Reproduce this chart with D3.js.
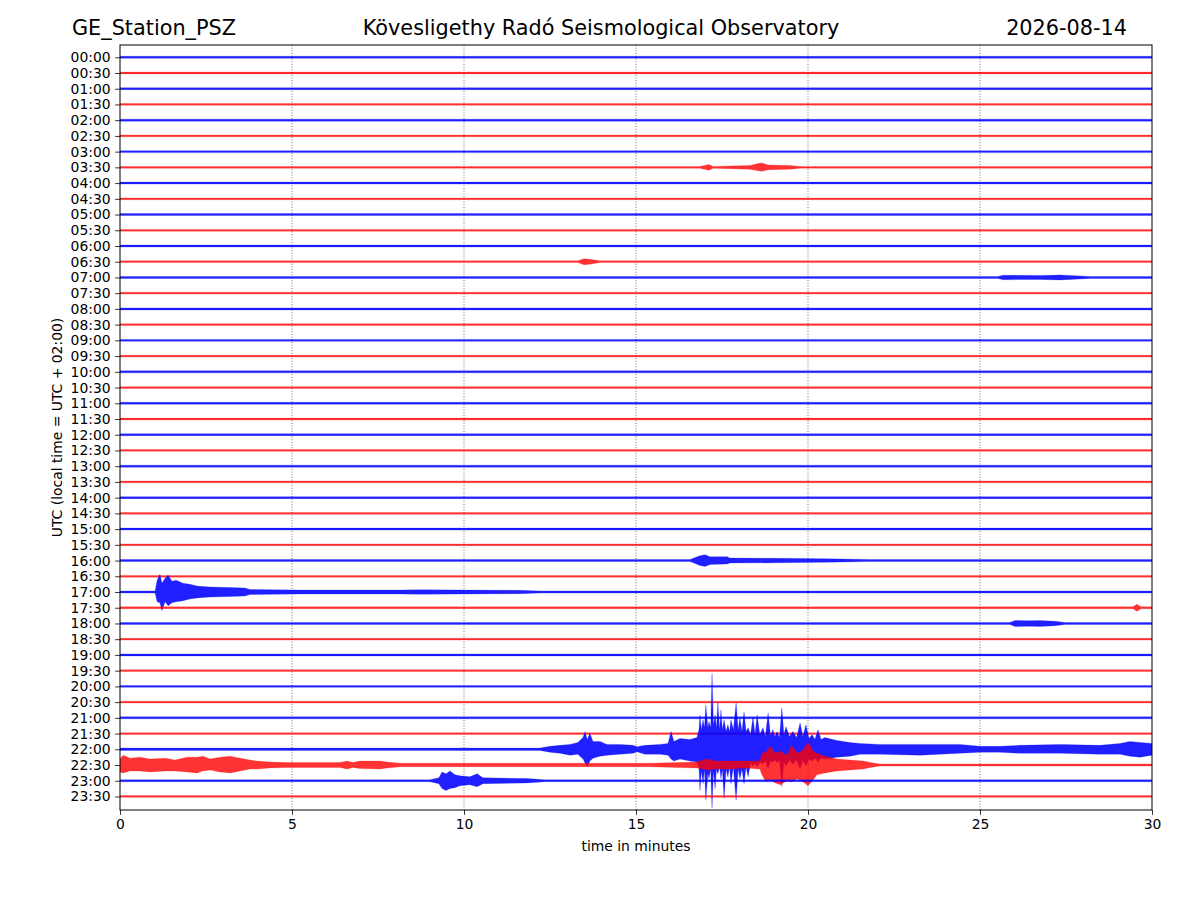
<!DOCTYPE html>
<html lang="en">
<head>
    <meta charset="UTF-8">
    <title>GE_Station_PSZ</title>
    <style>
        body { margin: 0; background: #fff; }
        svg { display: block; font-family: "DejaVu Sans", sans-serif; }
    </style>
    <script src="https://d3js.org/d3.v7.min.js"></script>
</head>
<body>
    <div id="svg"></div>
    <script>
        const { boxWidth, boxHeight } = { boxWidth: 1200, boxHeight: 900 }
        const { plotLeft, plotRight, plotTop, plotBottom } = { plotLeft: 120, plotRight: 1152, plotTop: 45, plotBottom: 810 }

        // one row = 30 minutes of record, 48 rows in the day
        const rowLabels = [
            "00:00", "00:30", "01:00", "01:30", "02:00", "02:30", "03:00", "03:30",
            "04:00", "04:30", "05:00", "05:30", "06:00", "06:30", "07:00", "07:30",
            "08:00", "08:30", "09:00", "09:30", "10:00", "10:30", "11:00", "11:30",
            "12:00", "12:30", "13:00", "13:30", "14:00", "14:30", "15:00", "15:30",
            "16:00", "16:30", "17:00", "17:30", "18:00", "18:30", "19:00", "19:30",
            "20:00", "20:30", "21:00", "21:30", "22:00", "22:30", "23:00", "23:30"
        ]
        const minuteTicks = [0, 5, 10, 15, 20, 25, 30]
        const gridMinutes = [5, 10, 15, 20, 25]

        // amplitude units, 16 units = distance between two rows
        const traceSpacing = 16
        const noiseLevel = [
            1.0, 0.9, 1.0, 0.9, 1.0, 0.9, 1.0, 0.9,
            1.0, 0.9, 1.0, 0.9, 1.0, 0.9, 1.0, 0.9,
            1.0, 0.9, 1.0, 0.9, 1.0, 0.9, 1.0, 0.9,
            1.0, 0.9, 1.0, 0.9, 1.0, 0.9, 1.0, 0.9,
            1.0, 0.9, 1.0, 0.9, 1.0, 0.9, 1.0, 0.9,
            1.0, 0.9, 1.0, 0.9, 1.2, 1.0, 1.0, 0.9
        ]

        // envelopes: [minute, up, down]
        const ev0330 = [[16.86, 0.9, 0.9], [17.12, 3, 3], [17.24, 0.9, 0.9], [18.31, 2, 2], [18.55, 4, 3.5],
            [18.66, 4.5, 4], [18.84, 2.5, 2.5], [19.48, 1.8, 1.8], [19.77, 0.9, 0.9]]
        const ev0630 = [[13.31, 0.9, 0.9], [13.49, 3, 3], [13.66, 2.5, 2.5], [13.95, 0.9, 0.9]]
        const ev0700 = [[25.52, 1.0, 1.0], [25.67, 2.3, 2.3], [26.74, 2.0, 2.0], [27.33, 2.5, 2.5],
            [27.76, 1.8, 1.8], [28.2, 1.0, 1.0]]
        const ev1600 = [[16.57, 1.0, 1.0], [16.72, 3, 3], [16.86, 5, 5], [17.01, 6, 6], [17.15, 4, 4],
            [17.65, 4, 3.5], [17.73, 2.5, 2.5], [19.10, 2.3, 2.3], [20.55, 1.8, 1.8], [21.8, 1.0, 1.0]]
        const ev1700 = [[1.02, 1.0, 1.0], [1.08, 12, 10], [1.16, 18, 11], [1.22, 9, 19], [1.31, 14, 10],
            [1.40, 17, 14], [1.51, 11, 11], [1.63, 12, 10], [1.83, 9, 9], [2.03, 8, 7], [2.24, 6, 6],
            [2.62, 5, 5], [3.20, 4.5, 4.5], [3.63, 4, 4], [3.78, 2.5, 2.5], [5.23, 2, 2], [8.14, 2, 2],
            [8.72, 2.3, 2.3], [11.63, 1.7, 1.7], [12.21, 1.0, 1.0]]
        const ev1730 = [[29.45, 0.9, 0.9], [29.56, 3.5, 3.5], [29.68, 0.9, 0.9]]
        const ev1800 = [[25.87, 1.0, 1.0], [26.02, 3, 3], [26.45, 2.8, 2.8], [26.74, 3, 3],
            [27.18, 2.2, 2.2], [27.47, 1.0, 1.0]]
        const ev2200 = [
            [12.21, 1.2, 1.2], [12.50, 3, 3], [12.79, 4, 4], [13.08, 5, 6], [13.31, 7, 5], [13.46, 12, 10],
            [13.52, 18, 14], [13.58, 10, 18], [13.66, 16, 12], [13.75, 8, 9], [13.95, 8, 7], [14.16, 5, 6],
            [14.53, 5, 5], [14.91, 4, 4], [15.03, 2.5, 2.5], [15.26, 4, 5], [15.70, 5, 5], [15.93, 6, 6],
            [16.02, 18, 10], [16.10, 8, 12], [16.28, 11, 10], [16.57, 10, 12], [16.77, 12, 13],
            [16.83, 20, 18], [16.86, 35, 42], [16.90, 20, 22], [16.95, 30, 35], [16.99, 22, 20],
            [17.03, 45, 52], [17.09, 22, 24], [17.12, 28, 30], [17.17, 22, 20], [17.21, 77, 60],
            [17.25, 25, 22], [17.30, 35, 40], [17.34, 22, 20], [17.38, 48, 25], [17.43, 20, 18],
            [17.47, 40, 30], [17.51, 20, 20], [17.56, 30, 50], [17.62, 18, 20], [17.67, 25, 28],
            [17.72, 18, 18], [17.76, 30, 35], [17.83, 20, 18], [17.91, 47, 52], [17.97, 20, 20],
            [18.02, 32, 30], [18.08, 18, 20], [18.14, 38, 35], [18.20, 18, 18], [18.26, 22, 28],
            [18.33, 15, 14], [18.40, 33, 17], [18.46, 15, 14], [18.52, 35, 18], [18.60, 15, 13],
            [18.69, 22, 15], [18.76, 13, 12], [18.84, 37, 20], [18.91, 14, 12], [18.98, 20, 13],
            [19.04, 13, 11], [19.10, 18, 14], [19.17, 12, 11], [19.24, 42, 38], [19.30, 15, 13],
            [19.36, 23, 17], [19.46, 13, 11], [19.56, 18, 15], [19.67, 12, 11], [19.77, 27, 20],
            [19.85, 13, 11], [19.94, 25, 17], [20.03, 11, 10], [20.12, 15, 12], [20.20, 10, 9],
            [20.29, 20, 13], [20.38, 10, 9], [20.49, 12, 10], [20.84, 9, 8], [21.22, 7, 7], [21.51, 6, 5],
            [22.09, 5, 5], [23.26, 5, 6], [24.42, 5, 4], [25.00, 3, 3], [25.58, 3, 3], [26.16, 4, 4],
            [27.33, 5, 4], [28.49, 4, 5], [29.07, 6, 5], [29.36, 8, 7], [29.65, 7, 8], [30, 6, 6]
        ]
        const ev2230 = [
            [0, 6, 7], [0.09, 10, 8], [0.29, 7, 6], [0.58, 8, 6], [0.87, 6, 7], [1.31, 7, 6], [1.60, 5, 6],
            [1.95, 8, 7], [2.24, 8, 8], [2.41, 9, 6], [2.62, 6, 5], [2.91, 8, 7], [3.20, 9, 8], [3.49, 7, 6],
            [3.78, 5, 4], [3.98, 4, 4], [4.36, 3, 3], [4.85, 2.5, 2.5], [6.40, 2.5, 2.5], [6.60, 4, 4],
            [6.77, 2.5, 2.5], [6.98, 4, 3.5], [7.56, 4, 4], [7.76, 3, 3], [8.14, 1.8, 1.8], [15.41, 1.8, 1.8],
            [16.77, 3, 3], [16.95, 5, 4], [17.09, 6, 5], [17.30, 4, 4], [17.73, 4, 4], [18.17, 4, 3],
            [18.60, 4, 4], [18.66, 12, 10], [18.78, 13, 17], [18.90, 19, 15], [19.04, 12, 18],
            [19.19, 14, 20], [19.39, 10, 16], [19.53, 20, 17], [19.68, 12, 14], [19.85, 15, 17],
            [20.00, 23, 21], [20.15, 14, 15], [20.26, 12, 10], [20.49, 9, 8], [20.84, 6, 6], [21.22, 5, 5],
            [21.60, 4, 4], [21.86, 2.3, 2.3], [22.09, 1.0, 1.0]
        ]
        const ev2300 = [[9.01, 1.0, 1.0], [9.27, 3, 3], [9.36, 9, 8], [9.48, 7, 10], [9.59, 10, 8],
            [9.74, 6, 7], [9.88, 5, 5], [10.17, 4, 4], [10.38, 7, 6], [10.55, 3, 3], [11.83, 2.2, 2.2],
            [12.35, 1.0, 1.0]]

        const eventRows = [
            ["03:30", ev0330], ["06:30", ev0630], ["07:00", ev0700], ["16:00", ev1600],
            ["17:00", ev1700], ["17:30", ev1730], ["18:00", ev1800], ["22:00", ev2200],
            ["22:30", ev2230], ["23:00", ev2300]
        ]

        const traceColors = ["#0000ff", "#ff0000"]

        let xScale, yScale, ampScale

        function traceData(i) {
            const base = noiseLevel[i]
            const found = eventRows.find(e => e[0] === rowLabels[i])
            let pts = found ? found[1].slice() : []
            if (pts.length === 0 || pts[0][0] > 0) pts.unshift([0, base, base])
            if (pts[pts.length - 1][0] < 30) pts.push([30, base, base])
            return pts
        }

        function renderInit() {
            const svg = d3.select("#svg").append("svg")
                .attr("width", boxWidth).attr("height", boxHeight)

            xScale = d3.scaleLinear().domain([0, 30]).range([plotLeft, plotRight])
            yScale = d3.scaleLinear().domain([-0.78, 47.86]).range([plotTop, plotBottom])
            ampScale = d3.scaleLinear().domain([0, traceSpacing]).range([0, yScale(1) - yScale(0)])

            svg.append("clipPath").attr("id", "plotClip").append("rect")
                .attr("x", plotLeft).attr("y", plotTop)
                .attr("width", plotRight - plotLeft).attr("height", plotBottom - plotTop)

            // dotted grid
            svg.append("g").selectAll("line").data(gridMinutes).enter().append("line")
                .attr("x1", d => xScale(d)).attr("x2", d => xScale(d))
                .attr("y1", plotTop).attr("y2", plotBottom)
                .attr("stroke", "#333").attr("stroke-width", 0.7)
                .attr("stroke-dasharray", "1,1.7")

            // traces
            const traces = svg.append("g").attr("clip-path", "url(#plotClip)")
            rowLabels.forEach((label, i) => {
                const y0 = yScale(i)
                const area = d3.area()
                    .x(d => xScale(d[0]))
                    .y0(d => y0 + ampScale(d[2]))
                    .y1(d => y0 - ampScale(d[1]))
                traces.append("path")
                    .datum(traceData(i))
                    .attr("d", area)
                    .attr("fill", traceColors[i % 2])
                    .attr("fill-opacity", i % 2 ? 0.8 : 0.88)
                    .attr("stroke", traceColors[i % 2])
                    .attr("stroke-width", 0.5)
                    .attr("stroke-opacity", 0.45)
            })

            // axes
            const xAxis = d3.axisBottom(xScale).tickValues(minuteTicks).tickSize(4.9).tickPadding(4.5).tickFormat(d3.format("d"))
            const xAxisGroup = svg.append("g").attr("transform", `translate(0, ${plotBottom})`).call(xAxis)

            const yAxis = d3.axisLeft(yScale).tickValues(d3.range(rowLabels.length)).tickSize(4.9).tickPadding(4.5)
                .tickFormat(i => rowLabels[i])
            const yAxisGroup = svg.append("g").attr("transform", `translate(${plotLeft}, 0)`).call(yAxis)

            ;[xAxisGroup, yAxisGroup].forEach(g => {
                g.select(".domain").remove()
                g.selectAll("text").attr("font-size", "13.9px").attr("fill", "#000")
                    .attr("font-family", "DejaVu Sans, sans-serif")
                g.selectAll("line").attr("stroke", "#000").attr("stroke-width", 0.8)
            })

            // frame
            svg.append("rect")
                .attr("x", plotLeft).attr("y", plotTop)
                .attr("width", plotRight - plotLeft).attr("height", plotBottom - plotTop)
                .attr("fill", "none").attr("stroke", "#000").attr("stroke-width", 1)

            // labels
            svg.append("text").attr("x", (plotLeft + plotRight) / 2).attr("y", 851)
                .attr("text-anchor", "middle").attr("font-size", "13.9px").text("time in minutes")
            svg.append("text")
                .attr("transform", `translate(62, ${(plotTop + plotBottom) / 2}) rotate(-90)`)
                .attr("text-anchor", "middle").attr("font-size", "13.9px")
                .text("UTC (local time = UTC + 02:00)")

            svg.append("text").attr("x", 72).attr("y", 35).attr("font-size", "20.8px").text("GE_Station_PSZ")
            svg.append("text").attr("x", 601).attr("y", 35).attr("text-anchor", "middle")
                .attr("font-size", "20.8px").text("Kövesligethy Radó Seismological Observatory")
            svg.append("text").attr("x", 1127).attr("y", 35).attr("text-anchor", "end")
                .attr("font-size", "20.8px").text("2026-08-14")
        }

        renderInit()
    </script>
</body>
</html>
